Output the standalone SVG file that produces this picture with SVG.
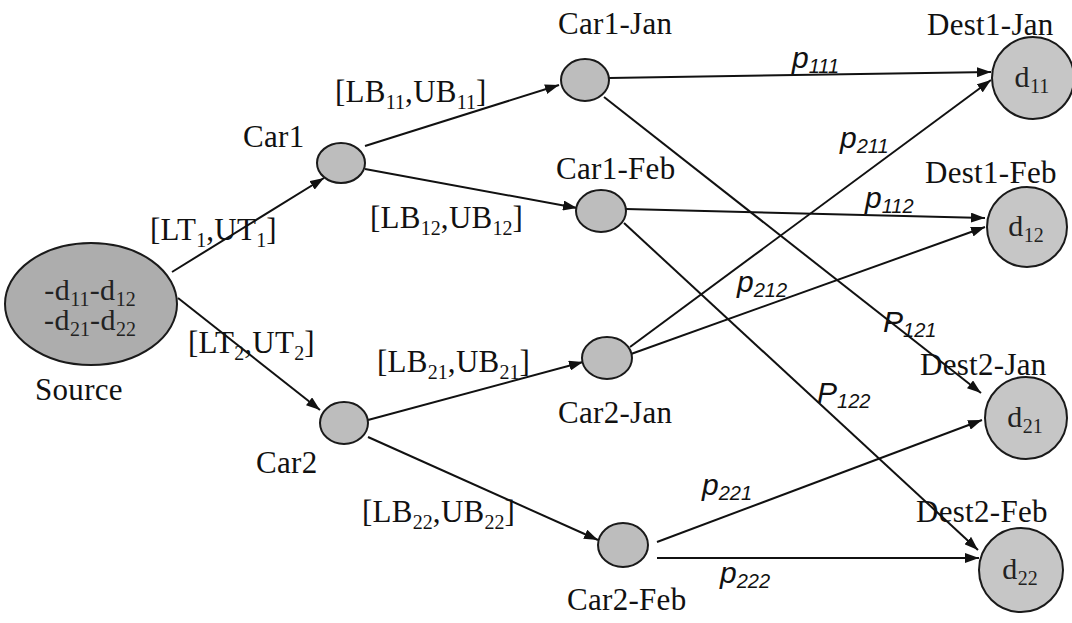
<svg xmlns="http://www.w3.org/2000/svg" width="1072" height="623" viewBox="0 0 1072 623">
<style>
.n{fill:#bdbdbd;stroke:#1a1a1a;stroke-width:2}
.src{fill:#adadad}
.dst{fill:#c6c6c6}
.t{font-family:"Liberation Serif","Times New Roman",serif;font-size:31px;letter-spacing:0.3px;fill:#111}
.d{font-family:"Liberation Serif","Times New Roman",serif;font-size:30px;letter-spacing:0.5px;fill:#222}
.s{font-size:20px;letter-spacing:0}
.p{font-family:"Liberation Sans",Arial,sans-serif;font-style:italic;font-size:30px;fill:#111}
.ps{font-size:20px}
.e{stroke:#111;stroke-width:2;fill:none;marker-end:url(#ah)}
</style>
<defs>
<marker id="ah" viewBox="0 0 14 10" refX="14" refY="5" markerWidth="14" markerHeight="10" markerUnits="userSpaceOnUse" orient="auto">
<path d="M0,0 L14,5 L0,10 Z" fill="#111"/>
</marker>
</defs>
<rect width="1072" height="623" fill="#fff"/>

<g id="connectors">
<line class="e" x1="172" y1="272" x2="324" y2="178"/>
<line class="e" x1="178" y1="298" x2="320" y2="410"/>
<line class="e" x1="365" y1="146" x2="559" y2="85"/>
<line class="e" x1="365" y1="169" x2="577" y2="208"/>
<line class="e" x1="368" y1="420" x2="583" y2="362"/>
<line class="e" x1="368" y1="437" x2="598" y2="540"/>
<line class="e" x1="609" y1="78" x2="991" y2="72"/>
<line class="e" x1="604" y1="97" x2="981" y2="393"/>
<line class="e" x1="626" y1="209" x2="985" y2="218"/>
<line class="e" x1="624" y1="223" x2="978" y2="550"/>
<line class="e" x1="630" y1="347" x2="991" y2="80"/>
<line class="e" x1="631" y1="354" x2="985" y2="227"/>
<line class="e" x1="657" y1="542" x2="982" y2="420"/>
<line class="e" x1="657" y1="558" x2="979" y2="558"/>
</g>

<g id="edge-labels">
<text class="t" x="150" y="240">[LT<tspan class="s" dy="7">1</tspan><tspan dy="-7">,UT</tspan><tspan class="s" dy="7">1</tspan><tspan dy="-7">]</tspan></text>
<text class="t" x="188" y="353">[LT<tspan class="s" dy="7">2</tspan><tspan dy="-7">,UT</tspan><tspan class="s" dy="7">2</tspan><tspan dy="-7">]</tspan></text>
<text class="t" x="335" y="102">[LB<tspan class="s" dy="7">11</tspan><tspan dy="-7">,UB</tspan><tspan class="s" dy="7">11</tspan><tspan dy="-7">]</tspan></text>
<text class="t" x="370" y="228">[LB<tspan class="s" dy="7">12</tspan><tspan dy="-7">,UB</tspan><tspan class="s" dy="7">12</tspan><tspan dy="-7">]</tspan></text>
<text class="t" x="377" y="372">[LB<tspan class="s" dy="7">21</tspan><tspan dy="-7">,UB</tspan><tspan class="s" dy="7">21</tspan><tspan dy="-7">]</tspan></text>
<text class="t" x="362" y="522">[LB<tspan class="s" dy="7">22</tspan><tspan dy="-7">,UB</tspan><tspan class="s" dy="7">22</tspan><tspan dy="-7">]</tspan></text>
<text class="p" x="792" y="68">p<tspan class="ps" dy="5">111</tspan></text>
<text class="p" x="840" y="148">p<tspan class="ps" dy="5">211</tspan></text>
<text class="p" x="865" y="208">p<tspan class="ps" dy="5">112</tspan></text>
<text class="p" x="737" y="292">p<tspan class="ps" dy="5">212</tspan></text>
<text class="p" x="883" y="332">P<tspan class="ps" dy="5">121</tspan></text>
<text class="p" x="817" y="403">P<tspan class="ps" dy="5">122</tspan></text>
<text class="p" x="702" y="495">p<tspan class="ps" dy="5">221</tspan></text>
<text class="p" x="720" y="583">p<tspan class="ps" dy="5">222</tspan></text>
</g>

<g id="source">
<ellipse class="n src" cx="91" cy="304" rx="86" ry="61"/>
<text class="d" x="90" y="300" text-anchor="middle">-d<tspan class="s" dy="6">11</tspan><tspan dy="-6">-d</tspan><tspan class="s" dy="6">12</tspan></text>
<text class="d" x="90" y="330" text-anchor="middle">-d<tspan class="s" dy="6">21</tspan><tspan dy="-6">-d</tspan><tspan class="s" dy="6">22</tspan></text>
<text class="t" x="35" y="400">Source</text>
</g>

<g id="car1">
<ellipse class="n" cx="341" cy="163" rx="24" ry="20"/>
<text class="t" x="243" y="147">Car1</text>
</g>
<g id="car2">
<ellipse class="n" cx="344" cy="423" rx="24" ry="21"/>
<text class="t" x="256" y="473">Car2</text>
</g>
<g id="car1-jan">
<ellipse class="n" cx="585" cy="80" rx="24" ry="21"/>
<text class="t" x="558" y="34">Car1-Jan</text>
</g>
<g id="car1-feb">
<ellipse class="n" cx="601" cy="211" rx="25" ry="21"/>
<text class="t" x="556" y="179">Car1-Feb</text>
</g>
<g id="car2-jan">
<ellipse class="n" cx="607" cy="358" rx="25" ry="21"/>
<text class="t" x="558" y="423">Car2-Jan</text>
</g>
<g id="car2-feb">
<ellipse class="n" cx="623" cy="545" rx="25" ry="22"/>
<text class="t" x="567" y="610">Car2-Feb</text>
</g>

<g id="dest1-jan">
<circle class="n dst" cx="1033" cy="78" r="41"/>
<text class="d" x="1032" y="87" text-anchor="middle">d<tspan class="s" dy="6">11</tspan></text>
<text class="t" x="927" y="35">Dest1-Jan</text>
</g>
<g id="dest1-feb">
<circle class="n dst" cx="1027" cy="227" r="40"/>
<text class="d" x="1026" y="236" text-anchor="middle">d<tspan class="s" dy="6">12</tspan></text>
<text class="t" x="925" y="183">Dest1-Feb</text>
</g>
<g id="dest2-jan">
<circle class="n dst" cx="1026" cy="418" r="41"/>
<text class="d" x="1025" y="427" text-anchor="middle">d<tspan class="s" dy="6">21</tspan></text>
<text class="t" x="920" y="375">Dest2-Jan</text>
</g>
<g id="dest2-feb">
<circle class="n dst" cx="1021" cy="570" r="42"/>
<text class="d" x="1020" y="579" text-anchor="middle">d<tspan class="s" dy="6">22</tspan></text>
<text class="t" x="916" y="522">Dest2-Feb</text>
</g>
</svg>
